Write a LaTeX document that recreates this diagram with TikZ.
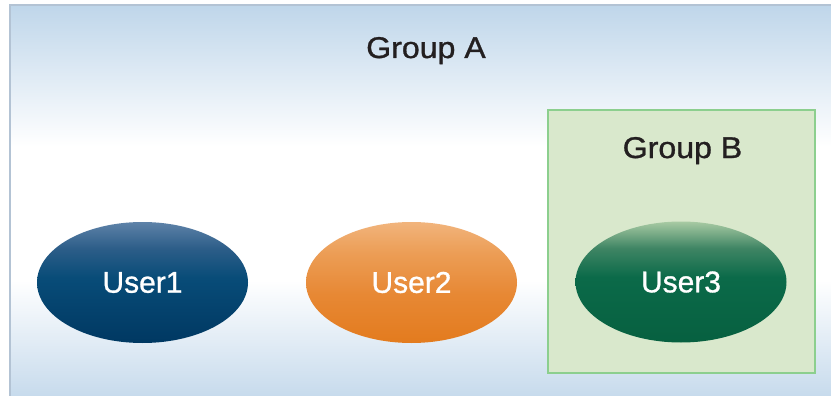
\documentclass[tikz,border=0pt]{standalone}
\usepackage{fontspec}
\setmainfont{Liberation Sans}
\newfontfamily\labelfont[FakeBold=1.0]{Liberation Sans}
\usetikzlibrary{shapes.geometric}
\definecolor{bgT}{HTML}{BFD6EA}
\definecolor{bgB}{HTML}{C6DAEC}
\definecolor{bgLine}{HTML}{B3C3D4}
\definecolor{grpBfill}{HTML}{D9E8CC}
\definecolor{grpBline}{HTML}{8CCF8E}
\definecolor{txtDark}{HTML}{231F20}
\definecolor{uOneT}{HTML}{5E82A8}
\definecolor{uOneQ}{HTML}{2C5D88}
\definecolor{uOneM}{HTML}{084C78}
\definecolor{uOneB}{HTML}{003862}
\definecolor{uTwoT}{HTML}{F1B47C}
\definecolor{uTwoQ}{HTML}{EC9D55}
\definecolor{uTwoM}{HTML}{E78834}
\definecolor{uTwoB}{HTML}{E37B1E}
\definecolor{uThrT}{HTML}{A8CAA3}
\definecolor{uThrQ}{HTML}{3F8564}
\definecolor{uThrM}{HTML}{0B6A49}
\definecolor{uThrB}{HTML}{076040}
\pgfdeclareverticalshading{outerbg}{100bp}{color(0bp)=(bgB); color(25bp)=(bgB); color(40bp)=(white); color(57bp)=(white); color(75bp)=(bgT); color(100bp)=(bgT)}
\pgfdeclareverticalshading{uoneshade}{100bp}{color(0bp)=(uOneB); color(25bp)=(uOneB); color(52bp)=(uOneM); color(64bp)=(uOneQ); color(75bp)=(uOneT); color(100bp)=(uOneT)}
\pgfdeclareverticalshading{utwoshade}{100bp}{color(0bp)=(uTwoB); color(25bp)=(uTwoB); color(45bp)=(uTwoM); color(62bp)=(uTwoQ); color(75bp)=(uTwoT); color(100bp)=(uTwoT)}
\pgfdeclareverticalshading{uthrshade}{100bp}{color(0bp)=(uThrB); color(25bp)=(uThrB); color(52bp)=(uThrM); color(64bp)=(uThrQ); color(75bp)=(uThrT); color(100bp)=(uThrT)}
\tikzset{
  user/.style={ellipse, inner sep=0pt, minimum width=211pt, minimum height=121pt,
    text=white, font=\labelfont\fontsize{30}{36}\selectfont},
  grouplabel/.style={anchor=base, inner sep=0pt, text=txtDark, font=\labelfont\fontsize{30}{36}\selectfont}
}
\begin{document}
\begin{tikzpicture}[x=1pt,y=-1pt]
\useasboundingbox (0,0) rectangle (831,396);
\fill[white] (0,0) rectangle (831,396);
\path[shading=outerbg] (10,5) rectangle (833,398);
\draw[bgLine, line width=1.5pt] (10,398) -- (10,5) -- (833,5);
\node[grouplabel] (gA) at (426,58) {\scalebox{1.07}[1]{Group A}};
\node[draw=grpBline, fill=grpBfill, line width=2pt, inner sep=0pt, minimum width=267pt, minimum height=263pt] (gB) at (681.5,241.5) {};
\node[grouplabel] (gBl) at (682.5,158) {\scalebox{1.07}[1]{Group B}};
\node[user, shading=uoneshade] (u1) at (142.5,282.5) {User1};
\node[user, shading=utwoshade] (u2) at (411.5,282.5) {User2};
\node[user, shading=uthrshade] (u3) at (681,282) {User3};
\end{tikzpicture}
\end{document}
